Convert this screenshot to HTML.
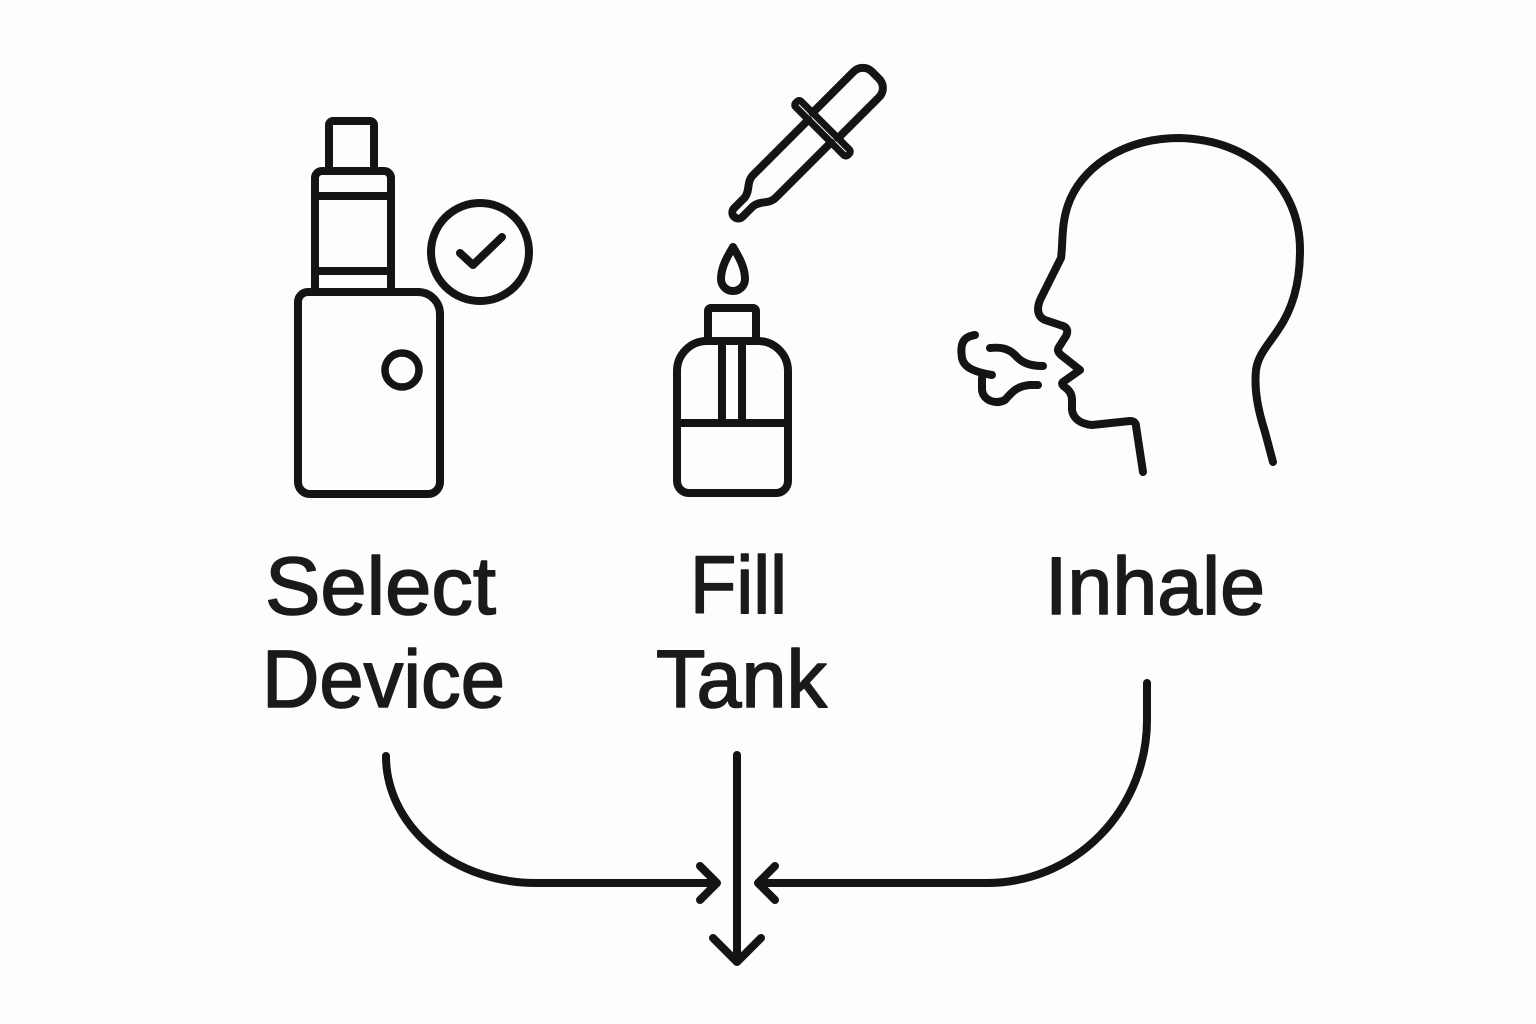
<!DOCTYPE html>
<html>
<head>
<meta charset="utf-8">
<style>
  html, body { margin: 0; padding: 0; background: #fdfdfd; }
  body { width: 1536px; height: 1024px; overflow: hidden; }
  svg { display: block; }
  .s { fill: none; stroke: #141414; stroke-width: 8; stroke-linecap: round; stroke-linejoin: round; }
  .t { font-family: "Liberation Sans", "DejaVu Sans", sans-serif; font-size: 82px; fill: #1a1a1a; stroke: #1a1a1a; stroke-width: 1.6; stroke-linejoin: round; }
</style>
</head>
<body>
<svg width="1536" height="1024" viewBox="0 0 1536 1024" xmlns="http://www.w3.org/2000/svg">
  <rect x="0" y="0" width="1536" height="1024" fill="#fdfdfd"/>

  <!-- ===== Device icon ===== -->
  <g class="s">
    <path d="M329,171 V125 A4 4 0 0 1 333,121 H370 A4 4 0 0 1 374,125 V171"/>
    <path d="M315,292 V178 A7 7 0 0 1 322,171 H384 A7 7 0 0 1 391,178 V292"/>
    <line x1="315" y1="196" x2="391" y2="196"/>
    <line x1="315" y1="271" x2="391" y2="271"/>
    <path d="M308,292 H418 A22 22 0 0 1 440,314 V482 A12 12 0 0 1 428,494 H310 A12 12 0 0 1 298,482 V302 A10 10 0 0 1 308,292 Z" fill="#fdfdfd"/>
    <circle cx="402" cy="370" r="17" stroke-width="7.5"/>
    <circle cx="480" cy="252" r="49"/>
    <path d="M460,253 L473,265 L502,237"/>
  </g>

  <!-- ===== Dropper ===== -->
  <g class="s" transform="translate(822.5,128.3) rotate(-45)">
    <path d="M-4,-16 L-82,-16 C-92,-16 -95,-7 -104,-6 L-119,-6 A6 6 0 0 0 -119,6 L-104,6 C-95,7 -92,16 -82,16 L-4,16"/>
    <path d="M4,-18 L62,-18 A13 13 0 0 1 75,-5 L75,5 A13 13 0 0 1 62,18 L4,18"/>
    <rect x="-4" y="-37" width="8" height="74" rx="3" stroke-width="7"/>
  </g>

  <!-- ===== Bottle ===== -->
  <g class="s">
    <path d="M733,247 C729,254 721,266 721,279 A12 12 0 0 0 745,279 C745,266 737,254 733,247 Z"/>
    <path d="M708,341 V311 A3 3 0 0 1 711,308 H753 A3 3 0 0 1 756,311 V341"/>
    <path d="M707,341 H758 A30 30 0 0 1 788,371 V481 A12 12 0 0 1 776,493 H689 A12 12 0 0 1 677,481 V371 A30 30 0 0 1 707,341 Z"/>
    <line x1="722" y1="341" x2="722" y2="423"/>
    <line x1="742" y1="341" x2="742" y2="423"/>
    <line x1="677" y1="423" x2="788" y2="423"/>
  </g>

  <!-- ===== Head ===== -->
  <g class="s">
    <path d="M1273,462 L1265,432 C1258,410 1254,390 1256,370 C1258,355 1268,345 1278,330 C1292,310 1300,285 1300,250 C1300,185 1250,140 1180,138 C1120,138 1080,170 1068,205 C1061,225 1063,245 1061,258 L1050,280 L1041,298 C1037,306 1036,316 1045,320 L1063,326 C1068,328 1068,332 1066,336 L1059,347 C1057,350 1058,352 1061,355 L1080,370 L1063,382 C1061,384 1063,386 1066,388 C1070,391 1072,395 1072,400 L1072,410 C1073,418 1080,424 1092,425 L1130,421 C1134,421 1136,423 1136,426 L1143,472"/>
    <path d="M975,335 C962,337 960,345 962,358 C964,368 975,372 992,375"/>
    <path d="M982,378 L982,390 C983,400 995,405 1005,400 C1012,392 1017,386 1030,385 L1038,385"/>
    <path d="M990,348 C1000,347 1008,348 1015,355 C1022,363 1030,366 1043,366"/>
  </g>

  <!-- ===== Labels ===== -->
  <text class="t" x="265" y="614" textLength="231" lengthAdjust="spacingAndGlyphs">Select</text>
  <text class="t" x="262" y="707" textLength="243" lengthAdjust="spacingAndGlyphs">Device</text>
  <text class="t" x="690" y="613" textLength="97" lengthAdjust="spacingAndGlyphs">Fill</text>
  <text class="t" x="656" y="707" textLength="171" lengthAdjust="spacingAndGlyphs">Tank</text>
  <text class="t" x="1045" y="614" textLength="220" lengthAdjust="spacingAndGlyphs">Inhale</text>

  <!-- ===== Connectors ===== -->
  <g class="s" stroke-width="7.5">
    <path d="M386,756 A150 127 0 0 0 536,883 L715,883"/>
    <path d="M700,866 L717,883 L700,900"/>
    <path d="M1147,683 L1147,720 A160 163 0 0 1 987,883 L760,883"/>
    <path d="M775,866 L758,883 L775,900"/>
    <line x1="737" y1="755" x2="737" y2="960"/>
    <path d="M713,938 L737,962 L761,938"/>
  </g>
</svg>
</body>
</html>
